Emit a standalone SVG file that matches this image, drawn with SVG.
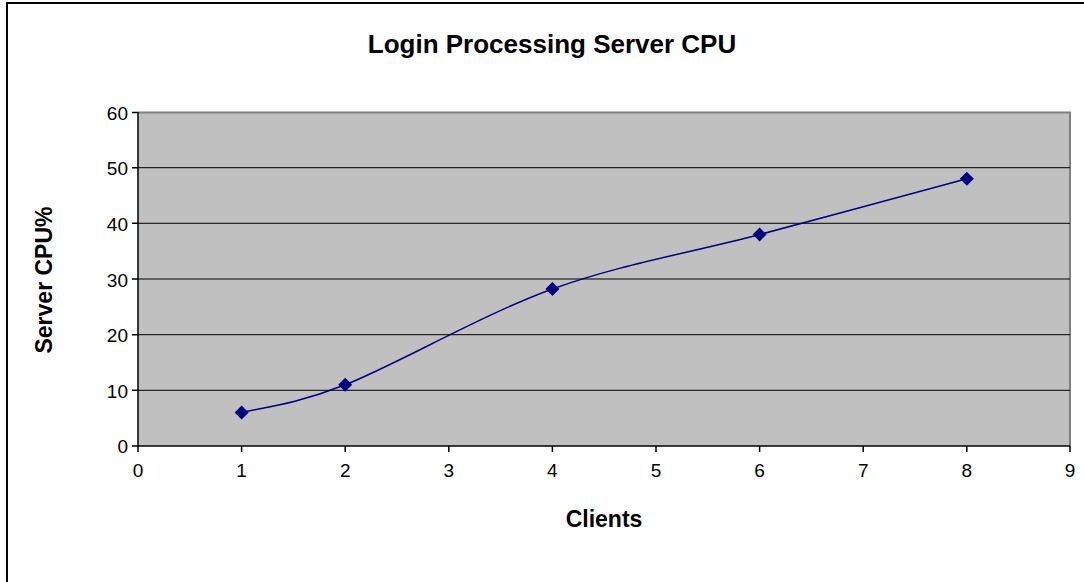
<svg xmlns="http://www.w3.org/2000/svg" width="1084" height="582" viewBox="0 0 1084 582">
<style>
.t{font-family:"Liberation Sans",Arial,sans-serif;fill:#000}
.tick{font-size:19px}
.yl{text-anchor:end}
.xl{text-anchor:middle}
.b{font-weight:bold}
.grid{stroke:#000;stroke-width:1}
.ax{stroke:#000;stroke-width:1.5;fill:none}
.mk{fill:#000080}
</style>
<defs>
<path id="dia" d="M0,-7 L7,0 L0,7 L-7,0 Z"/>
</defs>
<rect x="0" y="0" width="1084" height="582" fill="#fff"/>
<rect x="7" y="3" width="1100" height="600" fill="none" stroke="#000" stroke-width="2"/>
<g id="plot">
<rect x="138" y="112.5" width="932" height="333.5" fill="#C0C0C0"/>
<path d="M138,112.5 H1070 V446" fill="none" stroke="#808080" stroke-width="2"/>
<g class="grid">
<line x1="138" y1="167.7" x2="1070" y2="167.7"/>
<line x1="138" y1="223.3" x2="1070" y2="223.3"/>
<line x1="138" y1="279" x2="1070" y2="279"/>
<line x1="138" y1="334.7" x2="1070" y2="334.7"/>
<line x1="138" y1="390.3" x2="1070" y2="390.3"/>
</g>
</g>
<g id="axes" class="ax">
<line x1="138" y1="112" x2="138" y2="446"/>
<line x1="138" y1="446" x2="1070" y2="446"/>
<path d="M132,112.5H138M132,167.7H138M132,223.3H138M132,279H138M132,334.7H138M132,390.3H138M132,446H138"/>
<path d="M138,446V452M241.6,446V452M345.2,446V452M448.8,446V452M552.4,446V452M656,446V452M759.6,446V452M863.2,446V452M966.8,446V452M1070,446V452"/>
</g>
<g id="ylabels" class="t tick yl">
<text x="128" y="119.5">60</text>
<text x="128" y="174.5">50</text>
<text x="128" y="230.5">40</text>
<text x="128" y="286.5">30</text>
<text x="128" y="341.5">20</text>
<text x="128" y="397.5">10</text>
<text x="128" y="453">0</text>
</g>
<g id="xlabels" class="t tick xl">
<text x="138" y="477">0</text>
<text x="241.6" y="477">1</text>
<text x="345.2" y="477">2</text>
<text x="448.8" y="477">3</text>
<text x="552.4" y="477">4</text>
<text x="656" y="477">5</text>
<text x="759.6" y="477">6</text>
<text x="863.2" y="477">7</text>
<text x="966.8" y="477">8</text>
<text x="1070" y="477">9</text>
</g>
<g id="connectors">
<path d="M241.6,412.6 C258.9,408 293.4,405.4 345.2,384.8 C397,364.2 483.3,314.05 552.4,289 C621.5,263.95 690.5,252.9 759.6,234.5 C828.7,216.1 932.3,188.1 966.8,178.8" fill="none" stroke="#000080" stroke-width="1.5"/>
</g>
<g id="markers" class="mk">
<use href="#dia" x="241.6" y="412.6"/>
<use href="#dia" x="345.2" y="384.8"/>
<use href="#dia" x="552.4" y="289"/>
<use href="#dia" x="759.6" y="234.5"/>
<use href="#dia" x="966.8" y="178.8"/>
</g>
<g id="title"><text class="t b" x="552" y="52.5" font-size="26" text-anchor="middle">Login Processing Server CPU</text></g>
<g id="xtitle"><text class="t b" x="604" y="526.5" font-size="23" text-anchor="middle">Clients</text></g>
<g id="ytitle"><text class="t b" transform="translate(52,280) rotate(-90)" x="0" y="0" font-size="23" text-anchor="middle">Server CPU%</text></g>
</svg>
